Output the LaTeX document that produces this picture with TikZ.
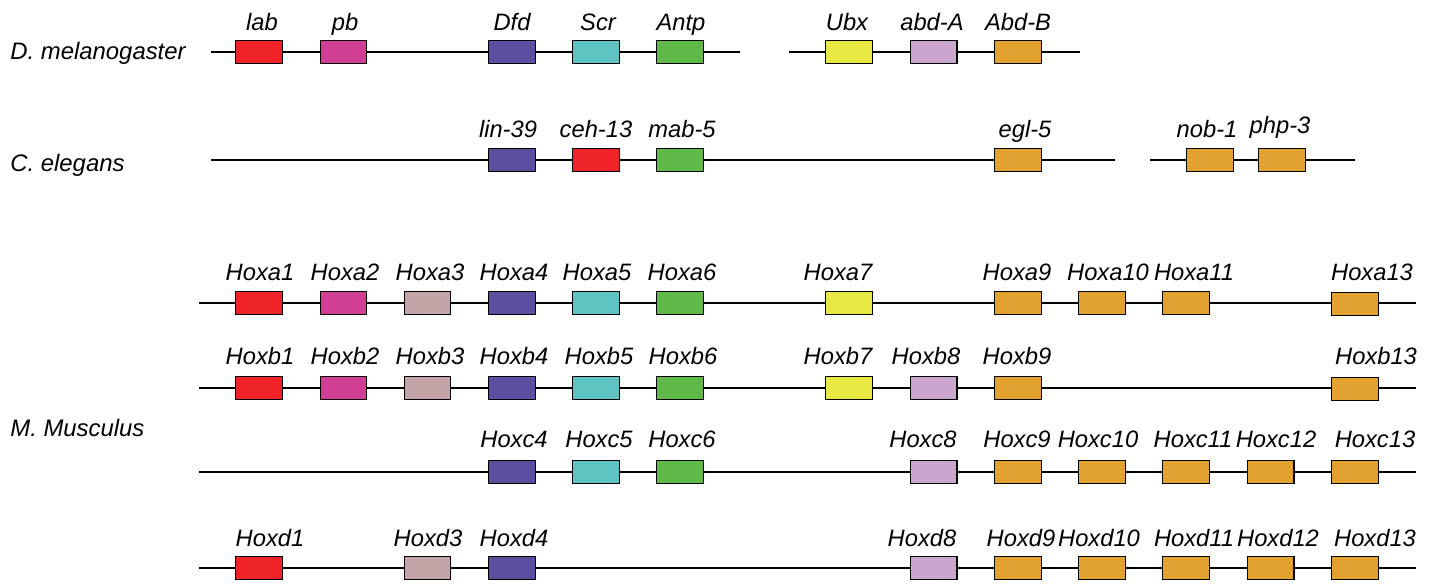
\documentclass[tikz,border=0pt]{standalone}
\usepackage{fontspec}
\setmainfont{Liberation Sans}
\usetikzlibrary{shapes}
\definecolor{hoxred}{RGB}{237,35,39}
\definecolor{hoxmag}{RGB}{207,63,148}
\definecolor{hoxrose}{RGB}{196,165,167}
\definecolor{hoxpurple}{RGB}{91,79,160}
\definecolor{hoxcyan}{RGB}{94,196,193}
\definecolor{hoxgreen}{RGB}{95,185,73}
\definecolor{hoxyellow}{RGB}{232,232,66}
\definecolor{hoxlilac}{RGB}{202,166,206}
\definecolor{hoxorange}{RGB}{225,162,48}

\begin{document}
\begin{tikzpicture}[x=0.02cm,y=-0.02cm]

\tikzstyle{gene} = [draw=black, line width=0.7, inner sep=0, minimum width=0.935cm, minimum height=0.455cm]
\tikzstyle{gname} = [anchor=base, inner sep=0, font=\fontsize{13.5}{16}\selectfont\itshape]
\tikzstyle{species} = [anchor=base west, inner sep=0, font=\fontsize{13.6}{16}\selectfont\itshape]
\tikzstyle{chrom} = [line width=0.8]

\useasboundingbox (0,0) rectangle (1435,583);

% species
\node[species] (dm) at (10,59) {D. melanogaster};
\node[species] (ce) at (10,171) {C. elegans};
\node[species] (mm) at (10,436) {M. Musculus};

% chromosomes
\coordinate (dm-l) at (211,52);  \coordinate (dm-r) at (740,52);
\coordinate (dm2-l) at (789,52); \coordinate (dm2-r) at (1080,52);
\coordinate (ce-l) at (211,160);  \coordinate (ce-r) at (1115,160);
\coordinate (ce2-l) at (1150,160); \coordinate (ce2-r) at (1355,160);
\coordinate (a-l) at (199,303); \coordinate (a-r) at (1416,303);
\coordinate (b-l) at (199,388); \coordinate (b-r) at (1416,388);
\coordinate (c-l) at (199,472); \coordinate (c-r) at (1416,472);
\coordinate (d-l) at (199,568); \coordinate (d-r) at (1416,568);

\draw[chrom] (dm-l) -- (dm-r);
\draw[chrom] (dm2-l) -- (dm2-r);
\draw[chrom] (ce-l) -- (ce-r);
\draw[chrom] (ce2-l) -- (ce2-r);
\draw[chrom] (a-l) -- (a-r);
\draw[chrom] (b-l) -- (b-r);
\draw[chrom] (c-l) -- (c-r);
\draw[chrom] (d-l) -- (d-r);

% D. melanogaster
\node[gene, fill=hoxred] (lab) at (259,52) {};
\node[gene, fill=hoxmag] (pb) at (343.5,52) {};
\node[gene, fill=hoxpurple] (Dfd) at (512,52) {};
\node[gene, fill=hoxcyan] (Scr) at (596,52) {};
\node[gene, fill=hoxgreen] (Antp) at (680,52) {};
\node[gene, fill=hoxyellow] (Ubx) at (849,52) {};
\node[gene, fill=hoxlilac] (abdA) at (933.5,52) {};
\node[gene, fill=hoxorange] (AbdB) at (1018,52) {};

\node[gname] (lab-t) at (262,30) {lab};
\node[gname] (pb-t) at (345,30) {pb};
\node[gname] (Dfd-t) at (512,30) {Dfd};
\node[gname] (Scr-t) at (598,30) {Scr};
\node[gname] (Antp-t) at (681,30) {Antp};
\node[gname] (Ubx-t) at (847,30) {Ubx};
\node[gname] (abdA-t) at (932,30) {abd-A};
\node[gname] (AbdB-t) at (1018,30) {Abd-B};

% C. elegans
\node[gene, fill=hoxpurple] (lin39) at (512,160) {};
\node[gene, fill=hoxred] (ceh13) at (596,160) {};
\node[gene, fill=hoxgreen] (mab5) at (680,160) {};
\node[gene, fill=hoxorange] (egl5) at (1018,160) {};
\node[gene, fill=hoxorange] (nob1) at (1210,160) {};
\node[gene, fill=hoxorange] (php3) at (1282,160) {};

\node[gname] (lin39-t) at (508,137) {lin-39};
\node[gname] (ceh13-t) at (596,137) {ceh-13};
\node[gname] (mab5-t) at (682,137) {mab-5};
\node[gname] (egl5-t) at (1025,137) {egl-5};
\node[gname] (nob1-t) at (1207,137) {nob-1};
\node[gname] (php3-t) at (1280,133) {php-3};

% Hoxa
\node[gene, fill=hoxred] (a1) at (259,303) {};
\node[gene, fill=hoxmag] (a2) at (343.5,303) {};
\node[gene, fill=hoxrose] (a3) at (427.5,303) {};
\node[gene, fill=hoxpurple] (a4) at (512,303) {};
\node[gene, fill=hoxcyan] (a5) at (596,303) {};
\node[gene, fill=hoxgreen] (a6) at (680,303) {};
\node[gene, fill=hoxyellow] (a7) at (849,303) {};
\node[gene, fill=hoxorange] (a9) at (1018,303) {};
\node[gene, fill=hoxorange] (a10) at (1102,303) {};
\node[gene, fill=hoxorange] (a11) at (1186,303) {};
\node[gene, fill=hoxorange] (a13) at (1355,304) {};

\node[gname] (a1-t) at (260,280) {Hoxa1};
\node[gname] (a2-t) at (345,280) {Hoxa2};
\node[gname] (a3-t) at (430,280) {Hoxa3};
\node[gname] (a4-t) at (514,280) {Hoxa4};
\node[gname] (a5-t) at (597,280) {Hoxa5};
\node[gname] (a6-t) at (682,280) {Hoxa6};
\node[gname] (a7-t) at (838,280) {Hoxa7};
\node[gname] (a9-t) at (1017,280) {Hoxa9};
\node[gname] (a10-t) at (1108,280) {Hoxa10};
\node[gname] (a11-t) at (1194,280) {Hoxa11};
\node[gname] (a13-t) at (1372,280) {Hoxa13};

% Hoxb
\node[gene, fill=hoxred] (b1) at (259,388) {};
\node[gene, fill=hoxmag] (b2) at (343.5,388) {};
\node[gene, fill=hoxrose] (b3) at (427.5,388) {};
\node[gene, fill=hoxpurple] (b4) at (512,388) {};
\node[gene, fill=hoxcyan] (b5) at (596,388) {};
\node[gene, fill=hoxgreen] (b6) at (680,388) {};
\node[gene, fill=hoxyellow] (b7) at (849,388) {};
\node[gene, fill=hoxlilac] (b8) at (933.5,388) {};
\node[gene, fill=hoxorange] (b9) at (1018,388) {};
\node[gene, fill=hoxorange] (b13) at (1355,389) {};

\node[gname] (b1-t) at (260,364) {Hoxb1};
\node[gname] (b2-t) at (345,364) {Hoxb2};
\node[gname] (b3-t) at (430,364) {Hoxb3};
\node[gname] (b4-t) at (514,364) {Hoxb4};
\node[gname] (b5-t) at (599,364) {Hoxb5};
\node[gname] (b6-t) at (683,364) {Hoxb6};
\node[gname] (b7-t) at (838,364) {Hoxb7};
\node[gname] (b8-t) at (926,364) {Hoxb8};
\node[gname] (b9-t) at (1017,364) {Hoxb9};
\node[gname] (b13-t) at (1376,364) {Hoxb13};

% Hoxc
\node[gene, fill=hoxpurple] (c4) at (512,472) {};
\node[gene, fill=hoxcyan] (c5) at (596,472) {};
\node[gene, fill=hoxgreen] (c6) at (680,472) {};
\node[gene, fill=hoxlilac] (c8) at (933.5,472) {};
\node[gene, fill=hoxorange] (c9) at (1018,472) {};
\node[gene, fill=hoxorange] (c10) at (1102,472) {};
\node[gene, fill=hoxorange] (c11) at (1186,472) {};
\node[gene, fill=hoxorange] (c12) at (1270.5,472) {};
\node[gene, fill=hoxorange] (c13) at (1355,472) {};

\node[gname] (c4-t) at (514,447) {Hoxc4};
\node[gname] (c5-t) at (599,447) {Hoxc5};
\node[gname] (c6-t) at (682,447) {Hoxc6};
\node[gname] (c8-t) at (923,447) {Hoxc8};
\node[gname] (c9-t) at (1017,447) {Hoxc9};
\node[gname] (c10-t) at (1098,447) {Hoxc10};
\node[gname] (c11-t) at (1193,447) {Hoxc11};
\node[gname] (c12-t) at (1276,447) {Hoxc12};
\node[gname] (c13-t) at (1375,447) {Hoxc13};

% Hoxd
\node[gene, fill=hoxred] (d1) at (259,568) {};
\node[gene, fill=hoxrose] (d3) at (427.5,568) {};
\node[gene, fill=hoxpurple] (d4) at (512,568) {};
\node[gene, fill=hoxlilac] (d8) at (933.5,568) {};
\node[gene, fill=hoxorange] (d9) at (1018,568) {};
\node[gene, fill=hoxorange] (d10) at (1102,568) {};
\node[gene, fill=hoxorange] (d11) at (1186,568) {};
\node[gene, fill=hoxorange] (d12) at (1270.5,568) {};
\node[gene, fill=hoxorange] (d13) at (1355,568) {};

\node[gname] (d1-t) at (270,546) {Hoxd1};
\node[gname] (d3-t) at (428,546) {Hoxd3};
\node[gname] (d4-t) at (514,546) {Hoxd4};
\node[gname] (d8-t) at (922,546) {Hoxd8};
\node[gname] (d9-t) at (1021,546) {Hoxd9};
\node[gname] (d10-t) at (1099,546) {Hoxd10};
\node[gname] (d11-t) at (1194,546) {Hoxd11};
\node[gname] (d12-t) at (1278,546) {Hoxd12};
\node[gname] (d13-t) at (1375,546) {Hoxd13};

\end{tikzpicture}
\end{document}
